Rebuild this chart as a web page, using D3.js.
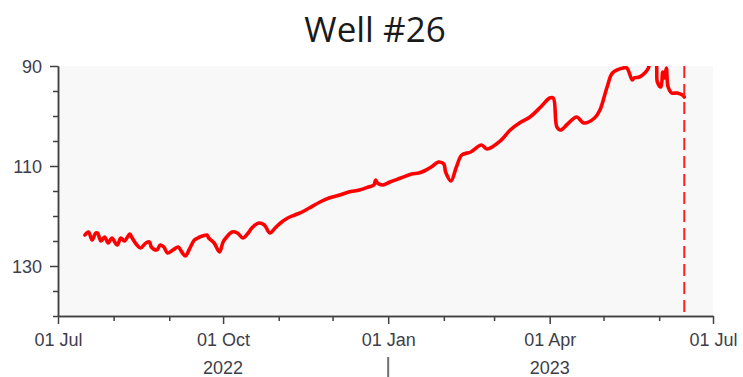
<!DOCTYPE html>
<html>
<head>
<meta charset="utf-8">
<script src="https://cdn.jsdelivr.net/npm/d3@7/dist/d3.min.js"></script>
<style>
  html, body { margin: 0; padding: 0; background: #ffffff; }
  svg { display: block; }
</style>
</head>
<body>
<svg id="chart" width="743" height="377"></svg>
<script>
// ---- data ----
const title = "Well #26";
const dates = [
  "2022-07-16","2022-07-18","2022-07-20","2022-07-22","2022-07-23","2022-07-25","2022-07-27","2022-07-29","2022-07-31",
  "2022-08-03","2022-08-05","2022-08-07","2022-08-10","2022-08-11","2022-08-14","2022-08-16","2022-08-19","2022-08-21",
  "2022-08-22","2022-08-25","2022-08-27","2022-08-29","2022-08-31","2022-09-03","2022-09-06","2022-09-08","2022-09-10",
  "2022-09-12","2022-09-15","2022-09-17","2022-09-18","2022-09-22","2022-09-23","2022-09-26","2022-09-29","2022-10-01",
  "2022-10-03","2022-10-06","2022-10-09","2022-10-12","2022-10-15","2022-10-17","2022-10-21","2022-10-24","2022-10-27",
  "2022-10-30","2022-11-02","2022-11-06","2022-11-10","2022-11-14","2022-11-18","2022-11-24","2022-11-29","2022-12-05",
  "2022-12-10","2022-12-16","2022-12-21","2022-12-24","2022-12-25","2022-12-26","2022-12-29","2023-01-02","2023-01-08",
  "2023-01-14","2023-01-18","2023-01-21","2023-01-25","2023-01-29","2023-02-01","2023-02-02","2023-02-05","2023-02-08",
  "2023-02-11","2023-02-16","2023-02-22","2023-02-25","2023-03-05","2023-03-10","2023-03-16","2023-03-21","2023-03-27",
  "2023-04-01","2023-04-03","2023-04-05","2023-04-07","2023-04-11","2023-04-16","2023-04-20","2023-04-26","2023-04-29",
  "2023-05-03","2023-05-06","2023-05-12","2023-05-14","2023-05-17","2023-05-18","2023-05-21","2023-05-24","2023-05-26",
  "2023-05-27","2023-05-30","2023-05-31","2023-06-02","2023-06-03","2023-06-04","2023-06-05","2023-06-06","2023-06-08",
  "2023-06-11","2023-06-14","2023-06-15"
];
const levels = [
  123.8,123.2,124.8,123.4,123.4,125.0,124.2,125.4,124.4,
  125.8,124.4,125.0,123.6,124.2,125.8,126.4,125.4,125.2,
  126.2,126.8,125.8,126.2,127.4,126.8,126.2,127.2,128.0,
  126.8,124.8,124.4,124.2,123.8,124.4,125.4,127.2,125.2,
  124.2,123.2,123.4,124.4,123.4,122.4,121.4,121.8,123.4,
  122.4,121.4,120.4,119.8,119.2,118.4,117.2,116.4,115.8,
  115.2,114.8,114.2,113.8,112.8,113.4,113.8,113.2,112.4,
  111.6,111.4,111.0,110.2,109.2,109.6,111.2,113.0,110.2,
  107.8,107.2,105.8,106.6,104.8,102.8,101.2,100.2,98.2,
  96.4,96.4,102.2,102.8,101.6,100.2,101.4,100.4,98.8,
  94.2,91.4,90.4,90.4,92.8,92.4,92.2,91.4,90.4,
  89.2,89.2,93.2,94.2,91.2,92.4,90.4,94.2,95.4,
  95.4,95.8,96.2
];
const markerDate = "2023-06-15";
const xDomain = ["2022-07-01", "2023-07-01"];
const yDomain = [90, 140];
const yMajorTicks = [90, 110, 130];
const yMinorTicks = [95, 100, 105, 115, 120, 125, 135, 140];
const xMajorTicks = ["2022-07-01", "2022-10-01", "2023-01-01", "2023-04-01", "2023-07-01"];
const yearLabels = [["2022-10-01", "2022"], ["2023-04-01", "2023"]];
const yearSeparator = "2023-01-01";

// ---- drawing ----
const parse = d3.utcParse("%Y-%m-%d");
const svg = d3.select("#chart");
const M = { left: 58, top: 66, right: 713, bottom: 316 };
const axisColor = "#404040";
const textColor = "#3e3e4a";
const font = "'Liberation Sans', Arial, sans-serif";

const x = d3.scaleUtc().domain(xDomain.map(parse)).range([M.left, M.right]);
const y = d3.scaleLinear().domain(yDomain).range([M.top, M.bottom]);

// title
svg.append("text")
  .attr("x", 375).attr("y", 42)
  .attr("text-anchor", "middle")
  .attr("font-family", "'Open Sans', sans-serif")
  .attr("font-size", 35)
  .attr("fill", "#1a1a1a")
  .text(title);

// plot background
svg.append("rect")
  .attr("x", M.left).attr("y", M.top)
  .attr("width", M.right - M.left).attr("height", M.bottom - M.top)
  .attr("fill", "#f8f8f8");

// clip
svg.append("clipPath").attr("id", "clip")
  .append("rect")
  .attr("x", M.left).attr("y", M.top)
  .attr("width", M.right - M.left).attr("height", M.bottom - M.top);

// data line
const data = dates.map((d, i) => ({ date: parse(d), v: levels[i] }));
svg.append("path")
  .datum(data)
  .attr("clip-path", "url(#clip)")
  .attr("fill", "none")
  .attr("stroke", "#ff0000")
  .attr("stroke-width", 3.6)
  .attr("stroke-linejoin", "round")
  .attr("stroke-linecap", "round")
  .attr("d", d3.line().curve(d3.curveCatmullRom.alpha(0.5)).x(d => x(d.date)).y(d => y(d.v)));

// marker dashed line
svg.append("line")
  .attr("x1", x(parse(markerDate))).attr("x2", x(parse(markerDate)))
  .attr("y1", M.top).attr("y2", M.bottom)
  .attr("stroke", "#ff2020")
  .attr("stroke-width", 2)
  .attr("stroke-dasharray", "12,6");

function styleAxis(g) {
  g.select(".domain").attr("stroke", axisColor).attr("stroke-width", 1.5);
  g.selectAll(".tick line").attr("stroke", axisColor).attr("stroke-width", 1.5);
  g.selectAll(".tick text").attr("fill", textColor)
    .attr("font-family", font).attr("font-size", 18);
}

// y axis minor
const gyMinor = svg.append("g").attr("transform", `translate(${M.left},0)`)
  .call(d3.axisLeft(y).tickValues(yMinorTicks).tickSize(5).tickSizeOuter(0).tickFormat(""));
styleAxis(gyMinor);
// y axis major
const gy = svg.append("g").attr("transform", `translate(${M.left},0)`)
  .call(d3.axisLeft(y).tickValues(yMajorTicks).tickSize(8).tickSizeOuter(0).tickPadding(8));
styleAxis(gy);
gy.selectAll(".tick text").attr("dy", "0.36em");

// x axis minor (monthly)
const months = d3.utcMonth.range(x.domain()[0], d3.utcDay.offset(x.domain()[1], 1));
const majorSet = new Set(xMajorTicks);
const fmtKey = d3.utcFormat("%Y-%m-%d");
const gxMinor = svg.append("g").attr("transform", `translate(0,${M.bottom})`)
  .call(d3.axisBottom(x).tickValues(months.filter(m => !majorSet.has(fmtKey(m))))
    .tickSize(5).tickSizeOuter(0).tickFormat(""));
styleAxis(gxMinor);
// x axis major
const gx = svg.append("g").attr("transform", `translate(0,${M.bottom})`)
  .call(d3.axisBottom(x).tickValues(xMajorTicks.map(parse))
    .tickSize(8).tickSizeOuter(0).tickPadding(9).tickFormat(d3.utcFormat("%d %b")));
styleAxis(gx);

// year labels
yearLabels.forEach(([d, label]) => {
  svg.append("text")
    .attr("x", x(parse(d))).attr("y", 374)
    .attr("text-anchor", "middle")
    .attr("font-family", font).attr("font-size", 18)
    .attr("fill", textColor)
    .text(label);
});
// year separator
svg.append("line")
  .attr("x1", x(parse(yearSeparator))).attr("x2", x(parse(yearSeparator)))
  .attr("y1", 357).attr("y2", 377)
  .attr("stroke", "#707070").attr("stroke-width", 2);
</script>
</body>
</html>
